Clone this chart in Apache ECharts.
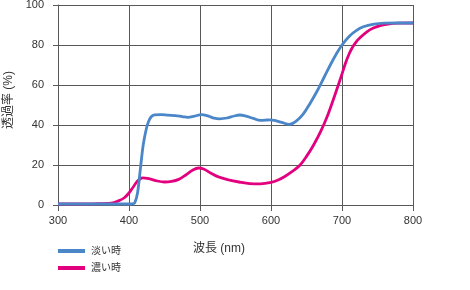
<!DOCTYPE html>
<html>
<head>
<meta charset="utf-8">
<script src="https://cdn.jsdelivr.net/npm/echarts@6/dist/echarts.min.js"></script>
<style>
html,body{margin:0;padding:0;background:#fff;}
#chart{width:470px;height:290px;}
</style>
</head>
<body>
<div id="chart"></div>
<script>
const seriesNames = ['淡い時', '濃い時'];
const xTicks = [300, 400, 500, 600, 700, 800];
const yTicks = [0, 20, 40, 60, 80, 100];

const lightWavelengths = [300, 350, 400, 405, 408, 412, 416, 420, 424, 427, 431, 436, 445, 455, 465, 475, 483, 492, 502, 512, 520, 528, 538, 548, 556, 565, 575, 585, 592, 598, 605, 615, 626, 635, 645, 655, 665, 675, 685, 692, 700, 710, 720, 730, 745, 760, 780, 800];
const lightValues = [0.5, 0.5, 0.5, 0.6, 1, 6, 18, 30, 37.5, 41.3, 44, 45.1, 45.2, 44.9, 44.7, 44.2, 43.8, 44.4, 45.2, 44.4, 43.4, 43.1, 43.5, 44.5, 45, 44.4, 43.3, 42.3, 42.4, 42.6, 42.3, 41.3, 40.3, 41.8, 45.3, 50.8, 57, 64, 71, 75.5, 80, 84.3, 87.2, 89.1, 90.4, 90.9, 91, 91];

const darkWavelengths = [300, 350, 375, 386, 393, 400, 406, 412, 419, 428, 440, 450, 460, 470, 480, 490, 498, 505, 515, 525, 540, 555, 570, 585, 600, 610, 620, 630, 640, 650, 660, 670, 680, 690, 700, 705, 710, 715, 720, 725, 735, 745, 755, 765, 780, 800];
const darkValues = [0.5, 0.6, 0.9, 2.2, 3.5, 6, 9, 12, 13.6, 13.2, 12, 11.5, 11.8, 12.8, 15, 17.5, 18.5, 18, 16, 14.2, 12.6, 11.5, 10.7, 10.6, 11.3, 12.5, 14.4, 16.8, 19.6, 24.3, 30, 36.8, 45, 55, 65.5, 71, 75.5, 79, 81.6, 83.5, 86.6, 88.6, 89.8, 90.5, 90.9, 91];

const zip = (xs, ys) => xs.map((x, i) => [x, ys[i]]);

const chart = echarts.init(document.getElementById('chart'), null, {renderer: 'canvas'});
const numFont = '"Liberation Sans", "Noto Sans CJK JP", sans-serif';
const gridColor = '#585858';

chart.setOption({
  animation: false,
  backgroundColor: '#ffffff',
  grid: {left: 58, right: 57, top: 5, bottom: 85, containLabel: false, outerBoundsMode: 'none'},
  xAxis: {
    type: 'value',
    min: xTicks[0], max: xTicks[xTicks.length - 1], interval: 100,
    axisLine: {show: true, lineStyle: {color: gridColor, width: 1}},
    axisTick: {show: true, length: 6, lineStyle: {color: gridColor}},
    splitLine: {show: true, lineStyle: {color: gridColor, width: 1}},
    axisLabel: {color: '#333', fontSize: 11, fontFamily: numFont, margin: 10}
  },
  yAxis: {
    type: 'value',
    min: yTicks[0], max: yTicks[yTicks.length - 1], interval: 20,
    name: '透過率 (%)',
    nameLocation: 'middle',
    nameGap: 41,
    nameRotate: 90,
    nameTextStyle: {color: '#333', fontSize: 12, fontFamily: numFont, padding: [0, 0, 0, 10]},
    axisLine: {show: true, lineStyle: {color: gridColor, width: 1}},
    axisTick: {show: true, length: 5, lineStyle: {color: gridColor}},
    splitLine: {show: true, lineStyle: {color: gridColor, width: 1}},
    axisLabel: {color: '#333', fontSize: 11, fontFamily: numFont, margin: 14}
  },
  legend: {
    orient: 'vertical',
    left: 53, top: 239,
    itemWidth: 27, itemHeight: 4, itemGap: 3,
    icon: 'rect',
    textStyle: {color: '#333', fontSize: 10, fontFamily: numFont, padding: [0, 0, 0, 1], lineHeight: 14},
    data: seriesNames
  },
  graphic: [{
    type: 'text',
    left: 193, top: 243,
    style: {text: '波長 (nm)', fill: '#333', font: '12px "Liberation Sans", "Noto Sans CJK JP", sans-serif'}
  }],
  series: [
    {
      name: seriesNames[0], type: 'line', smooth: 0.35, showSymbol: false,
      lineStyle: {color: '#4a86c8', width: 2.8}, itemStyle: {color: '#4a86c8'},
      data: zip(lightWavelengths, lightValues), z: 3
    },
    {
      name: seriesNames[1], type: 'line', smooth: 0.35, showSymbol: false,
      lineStyle: {color: '#e3007f', width: 2.8}, itemStyle: {color: '#e3007f'},
      data: zip(darkWavelengths, darkValues), z: 2
    }
  ]
});
</script>
</body>
</html>
